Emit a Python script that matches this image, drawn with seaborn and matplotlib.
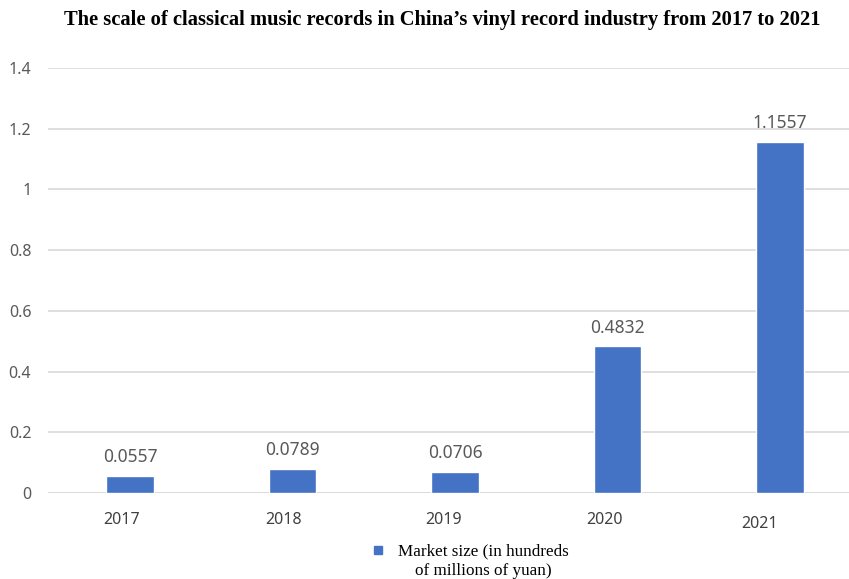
import matplotlib
matplotlib.use("Agg")
import matplotlib.pyplot as plt
import matplotlib.transforms as mtransforms
import seaborn as sns
import pandas as pd
from matplotlib.lines import Line2D

years = ["2017", "2018", "2019", "2020", "2021"]
values = [0.0557, 0.0789, 0.0706, 0.4832, 1.1557]
value_labels = ["0.0557", "0.0789", "0.0706", "0.4832", "1.1557"]
yticks = [0, 0.2, 0.4, 0.6, 0.8, 1.0, 1.2, 1.4]
ytick_labels = ["0", "0.2", "0.4", "0.6", "0.8", "1", "1.2", "1.4"]
title = "The scale of classical music records in China\u2019s vinyl record industry from 2017 to 2021"
legend_label = "Market size (in hundreds\nof millions of yuan)"

sns.set_style("white")
plt.rcParams['font.family'] = ['Noto Sans', 'DejaVu Sans']

df = pd.DataFrame({"year": years, "value": values})

fig = plt.figure(figsize=(8.49, 5.79), dpi=100)
ax = fig.add_axes([48/849, 86/579, 801/849, 425/579])

sns.barplot(data=df, x="year", y="value", color="#4472C4", width=0.29,
            saturation=1, ax=ax, zorder=3)

ax.set_xlim(-0.5046, 4.4246)
ax.set_ylim(0, 1.4)
ax.set_yticks(yticks)
ax.set_yticklabels(ytick_labels)
ax.yaxis.grid(True, color="#d9d9d9", linewidth=1.2, zorder=0)
ax.set_axisbelow(True)
for s in ax.spines.values():
    s.set_visible(False)
ax.axhline(0, color="#d9d9d9", linewidth=1.2, zorder=1)
ax.set_xlabel("")
ax.set_ylabel("")
ax.tick_params(axis="y", length=0, pad=12, labelsize=11.5, labelcolor="#595959")
ax.tick_params(axis="x", length=0, pad=14, labelsize=11.5, labelcolor="#404040")

# Excel-like slight offsets of the category labels
shifts = [(-8, 0), (-9, 0), (-11, 0), (-13, 0), (-20, -4)]
for lab, (dx, dy) in zip(ax.get_xticklabels(), shifts):
    lab.set_transform(lab.get_transform() +
                      mtransforms.ScaledTranslation(dx/100, dy/100, fig.dpi_scale_trans))

ax.bar_label(ax.containers[0], labels=value_labels, padding=7,
             fontsize=12.5, color="#595959")

fig.text(442/849, 1 - 20/579, title, ha="center", va="center",
         fontsize=14.8, fontweight="bold", family="Liberation Serif", color="black")

fig.text(483/849, 1 - 561/579, legend_label, ha="center", va="center",
         fontsize=12.3, family="Liberation Serif", color="black", linespacing=1.35)
fig.add_artist(Line2D([378/849], [1 - 550/579], marker="s", markersize=6,
                      color="#4472C4", linestyle="none", transform=fig.transFigure))

fig.savefig("out.png", dpi=100)
